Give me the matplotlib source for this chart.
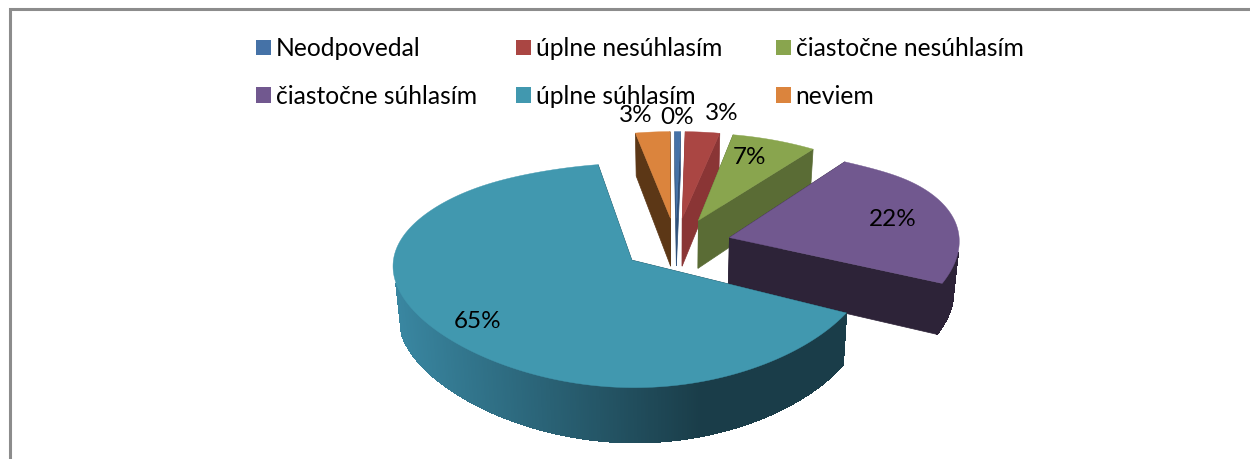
import matplotlib
matplotlib.use('Agg')
import matplotlib.pyplot as plt
from matplotlib.legend import Legend
from matplotlib.patches import Patch, Polygon
import numpy as np

categories = ['Neodpovedal', 'úplne nesúhlasím', 'čiastočne nesúhlasím',
              'čiastočne súhlasím', 'úplne súhlasím', 'neviem']
values = [0.5, 3, 7, 22, 65, 3]
pct_labels = ['0%', '3%', '7%', '22%', '65%', '3%']
colors = ['#4572a7', '#aa4643', '#89a54e', '#71588f', '#4198af', '#db843d']
side_colors = ['#2f5079', '#8a3535', '#5a6c35', '#2d2338', '#1a3d49', '#5c3716']

plt.rcParams['font.family'] = ['Lato', 'DejaVu Sans']

# pie geometry in pixels
cx, cy = 676, 243.7
rx, ry = 236, 113
rotation = np.radians(-0.5)
explode = 0.234
base_shrink = 0.98  # bottom of the extrusion leans in towards the middle

# label centres in pixels, by hand
label_pos = [(677, 117), (722, 114), (750, 158), (893, 219), (478, 322), (636, 115)]


def project(r, a, off):
    # a is clockwise from the top, off is the explode direction
    x = r * np.sin(a) + explode * np.sin(off)
    y = r * np.cos(a) + explode * np.cos(off)
    # rough perspective fitted by eye, the back of the pie shrinks faster than the front grows
    right = np.clip(x, 0, None)**4
    kx = (1 + 0.087 * y + 0.113 * y**2) * (1 + 0.01 * right)
    ky = 1 + 0.1395 * y + 0.0435 * y**2 + 0.05 * np.exp(-((y - 0.85) / 0.25)**2)
    return cx + rx * x / kx, cy - ry * y / ky - 3.5 * right, 49 - 5 * y


def lean(px):
    return cx + (px - cx) * base_shrink


def shade(col, f):
    return tuple(np.clip(np.array(matplotlib.colors.to_rgb(col)) * f, 0, 1))


fig = plt.figure(figsize=(12.5, 4.59), dpi=100)
ax = fig.add_axes([0, 0, 1, 1])
ax.set_xlim(0, 1250)
ax.set_ylim(459, 0)
ax.axis('off')

ax.plot([9.5, 9.5, 1250], [459, 9, 9], color='#8c8c8c', lw=2.2, solid_capstyle='butt',
        solid_joinstyle='miter')

edges = np.cumsum([0] + values) / sum(values) * 2 * np.pi + rotation
order = [5, 0, 1, 2, 3, 4]
for i in order:
    a0, a1 = edges[i], edges[i + 1]
    mid = (a0 + a1) / 2
    arc = np.linspace(a0, a1, max(int((a1 - a0) * 120), 4))
    ox, oy, od = project(0, 0, mid)
    xs, ys, ds = project(1, arc, mid)

    # cut faces
    for a in (a0, a1):
        ex, ey, ed = project(1, a, mid)
        face = [(ox, oy), (ex, ey), (lean(ex), ey + ed), (lean(ox), oy + od)]
        ax.add_patch(Polygon(face, fc=side_colors[i], ec=side_colors[i], lw=0.5, zorder=2 + i * 0.01))

    # outer rim, small quads so the big slice can carry its gradient
    for j in range(len(arc) - 1):
        if np.cos((arc[j] + arc[j + 1]) / 2) > -0.2:
            continue
        px = (xs[j] + xs[j + 1]) / 2
        col = side_colors[i]
        if i == 4:
            col = shade(col, np.interp(px, [395, 700, 850], [2.2, 1.0, 1.0]))
        quad = [(xs[j], ys[j]), (xs[j + 1], ys[j + 1]),
                (lean(xs[j + 1]), ys[j + 1] + ds[j + 1]), (lean(xs[j]), ys[j] + ds[j])]
        ax.add_patch(Polygon(quad, fc=col, ec=col, lw=0.8, antialiased=False, zorder=2 + i * 0.01))

    top = np.column_stack([np.r_[ox, xs], np.r_[oy, ys]])
    ax.add_patch(Polygon(top, fc=colors[i], ec=colors[i], lw=0.3, zorder=3 + i * 0.01))

for lab, (x, y) in zip(pct_labels, label_pos):
    ax.text(x, y, lab, ha='center', va='center', fontsize=17.5, color='black', zorder=6)

# one legend per column so the columns stay evenly spaced like the original
handles = [Patch(fc=c, ec='none') for c in colors]
for col, x in enumerate([256, 516, 776]):
    idx = [col, col + 3]
    leg = Legend(ax, [handles[k] for k in idx], [categories[k] for k in idx],
                 loc='upper left', bbox_to_anchor=(x, 37), bbox_transform=ax.transData,
                 frameon=False, fontsize=17.7, handlelength=0.6, handleheight=0.6,
                 handletextpad=0.2, labelspacing=1.0, borderpad=0, borderaxespad=0)
    ax.add_artist(leg)

fig.savefig('out.png', dpi=100)
